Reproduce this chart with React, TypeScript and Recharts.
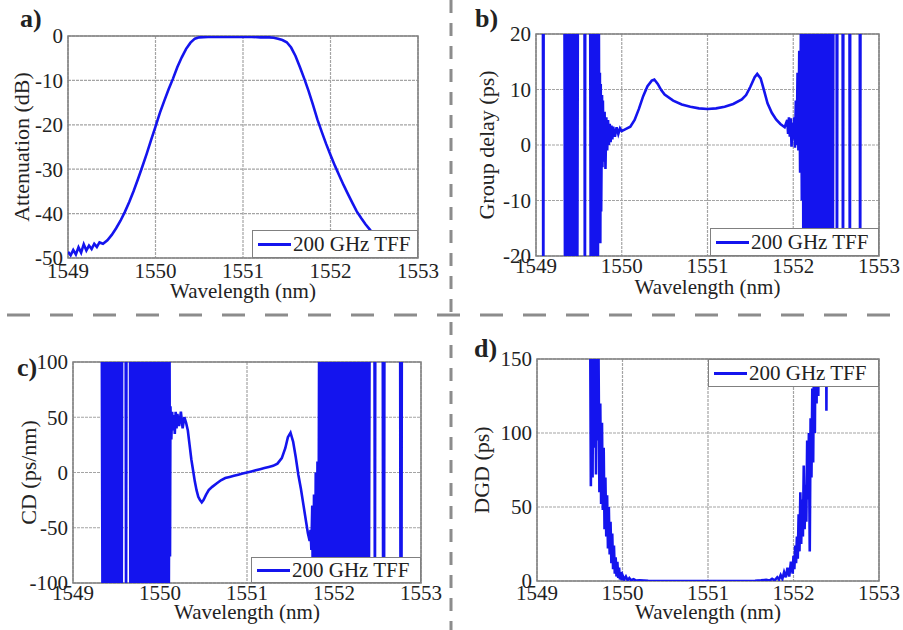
import React from "react";
import {
  LineChart,
  Line,
  XAxis,
  YAxis,
  CartesianGrid,
  Legend,
  Label,
  ReferenceArea,
} from "recharts";

const SERIF = '"Liberation Serif", "Times New Roman", Times, serif';
const BLUE = "#1414ee";
const INK = "#222";
const GRID = "#a4a4a4";
const FRAME = "#808080";

const seriesName = "200 GHz TFF";
const xTitle = "Wavelength (nm)";
const wlTicks = [1549, 1550, 1551, 1552, 1553];
const attTicks = [-50, -40, -30, -20, -10, 0];
const gdTicks = [-20, -10, 0, 10, 20];
const cdTicks = [-100, -50, 0, 50, 100];
const dgdTicks = [0, 50, 100, 150];

// a) attenuation
const attWl = [
  1549.0, 1549.03, 1549.06, 1549.09, 1549.12, 1549.15, 1549.18, 1549.21, 1549.24, 1549.27,
  1549.3, 1549.33, 1549.36, 1549.4, 1549.45, 1549.5, 1549.55, 1549.6, 1549.65, 1549.7,
  1549.75, 1549.8, 1549.85, 1549.9, 1549.95, 1550.0, 1550.05, 1550.1, 1550.15, 1550.2,
  1550.25, 1550.3, 1550.35, 1550.4, 1550.45, 1550.5, 1550.6, 1550.7, 1550.8, 1550.9,
  1551.0, 1551.1, 1551.2, 1551.3, 1551.35, 1551.4, 1551.45, 1551.5, 1551.55, 1551.6,
  1551.65, 1551.7, 1551.75, 1551.8, 1551.85, 1551.9, 1551.95, 1552.0, 1552.05, 1552.1,
  1552.15, 1552.2, 1552.25, 1552.3, 1552.35, 1552.4, 1552.45, 1552.5, 1552.55,
];
const attDb = [
  -48.6, -49.4, -48.2, -49.2, -47.6, -48.8, -46.9, -48.3, -47.2, -48.0,
  -46.8, -47.5, -46.5, -46.8, -46.0, -44.8, -43.3, -41.6, -39.6, -37.4,
  -34.9, -32.2, -29.4, -26.5, -23.4, -20.4, -17.3, -14.6, -12.0, -9.6,
  -7.0, -4.8, -2.9, -1.5, -0.6, -0.3, -0.2, -0.2, -0.2, -0.2,
  -0.2, -0.2, -0.3, -0.3, -0.4, -0.6, -0.9, -1.4, -2.6, -4.5,
  -7.0, -9.6, -12.4, -15.5, -18.8, -21.6, -24.3, -26.8, -29.2, -31.4,
  -33.6, -35.6, -37.6, -39.5, -41.0, -42.4, -43.6, -45.0, -46.2,
];

// b) group delay
const gdWl = [
  1549.0, 1549.08, 1549.085, 1549.09, 1549.33, 1549.34, 1549.35, 1549.36, 1549.37, 1549.38,
  1549.39, 1549.4, 1549.41, 1549.42, 1549.43, 1549.44, 1549.45, 1549.46, 1549.47, 1549.48,
  1549.49, 1549.565, 1549.57, 1549.575, 1549.63, 1549.64, 1549.65, 1549.66, 1549.67, 1549.68,
  1549.69, 1549.7, 1549.71, 1549.72, 1549.73, 1549.74, 1549.745, 1549.75, 1549.755, 1549.76,
  1549.77, 1549.775, 1549.78, 1549.79, 1549.8, 1549.81, 1549.82, 1549.83, 1549.84, 1549.85,
  1549.86, 1549.87, 1549.88, 1549.89, 1549.9, 1549.92, 1549.94, 1549.96, 1549.98, 1550.0,
  1550.05, 1550.1, 1550.15, 1550.2, 1550.25, 1550.3, 1550.35, 1550.38, 1550.42, 1550.46,
  1550.5, 1550.6, 1550.7, 1550.8, 1550.9, 1551.0, 1551.1, 1551.2, 1551.3, 1551.4,
  1551.45, 1551.5, 1551.55, 1551.58, 1551.62, 1551.66, 1551.7, 1551.75, 1551.8, 1551.85,
  1551.9, 1551.93, 1551.94, 1551.95, 1551.96, 1551.97, 1551.98, 1551.99, 1552.0, 1552.01,
  1552.02, 1552.03, 1552.04, 1552.05, 1552.06, 1552.07, 1552.08, 1552.09, 1552.1, 1552.11,
  1552.12, 1552.13, 1552.14, 1552.15, 1552.16, 1552.17, 1552.18, 1552.19, 1552.2, 1552.21,
  1552.22, 1552.23, 1552.24, 1552.25, 1552.26, 1552.27, 1552.28, 1552.29, 1552.3, 1552.31,
  1552.32, 1552.33, 1552.34, 1552.35, 1552.36, 1552.37, 1552.38, 1552.39, 1552.4, 1552.41,
  1552.42, 1552.43, 1552.44, 1552.45, 1552.46, 1552.47, 1552.505, 1552.51, 1552.515, 1552.575,
  1552.58, 1552.585, 1552.655, 1552.66, 1552.665, 1552.775, 1552.78, 1552.785, 1553.0,
];
const gdPs = [
  40, 40, -40, 40, 40, -40, 40, -40, 40, -40,
  40, -40, 40, -40, 40, -40, 40, -40, 40, -40,
  40, 40, -40, 40, 40, -40, 40, -40, 40, -40,
  40, -40, 40, -40, 40, -16, 13, -17.7, 11, -12,
  9, -4, 8, -3, 6, -4.3, 5, -1, 4.5, 0,
  3.8, 0.5, 3.5, 1, 3.3, 1.5, 3.2, 2, 3, 2.5,
  2.9, 3.3, 4.5, 6.5, 8.8, 10.6, 11.6, 11.8, 11.0, 9.9,
  9.1, 8.0, 7.3, 6.9, 6.6, 6.5, 6.6, 6.9, 7.4, 8.2,
  9.0, 10.5, 12.2, 12.8, 12.0, 9.8, 7.5, 5.8, 4.6, 3.8,
  3.2, 4.5, 2, 5, 1.5, 4.8, -0.3, 4, 1, 5,
  -0.5, 8, 0, 13, -1, 17, -5, 25, -10, 40,
  -40, 40, -40, 40, -40, 40, -40, 40, -40, 40,
  -40, 40, -40, 40, -40, 40, -40, 40, -40, 40,
  -40, 40, -40, 40, -40, 40, -40, 40, -40, 40,
  -40, 40, -40, 40, -40, 40, 40, -40, 40, 40,
  -40, 40, 40, -40, 40, 40, -40, 40, 40,
];

// c) chromatic dispersion
const cdWl = [
  1549.0, 1549.33, 1549.34, 1549.35, 1549.36, 1549.37, 1549.38, 1549.39, 1549.4, 1549.41,
  1549.42, 1549.43, 1549.44, 1549.45, 1549.46, 1549.47, 1549.48, 1549.49, 1549.5, 1549.51,
  1549.52, 1549.53, 1549.54, 1549.55, 1549.56, 1549.565, 1549.605, 1549.61, 1549.615, 1549.655,
  1549.66, 1549.67, 1549.68, 1549.69, 1549.7, 1549.71, 1549.72, 1549.73, 1549.74, 1549.75,
  1549.76, 1549.77, 1549.78, 1549.79, 1549.8, 1549.81, 1549.82, 1549.83, 1549.84, 1549.85,
  1549.86, 1549.87, 1549.88, 1549.89, 1549.9, 1549.91, 1549.92, 1549.93, 1549.94, 1549.95,
  1549.96, 1549.97, 1549.98, 1549.99, 1550.0, 1550.01, 1550.02, 1550.03, 1550.04, 1550.05,
  1550.06, 1550.07, 1550.08, 1550.09, 1550.1, 1550.11, 1550.115, 1550.12, 1550.13, 1550.14,
  1550.15, 1550.16, 1550.17, 1550.18, 1550.19, 1550.2, 1550.22, 1550.24, 1550.26, 1550.28,
  1550.3, 1550.32, 1550.34, 1550.36, 1550.38, 1550.4, 1550.42, 1550.44, 1550.46, 1550.48,
  1550.5, 1550.53, 1550.56, 1550.6, 1550.65, 1550.7, 1550.75, 1550.8, 1550.85, 1550.9,
  1550.95, 1551.0, 1551.05, 1551.1, 1551.15, 1551.2, 1551.25, 1551.3, 1551.35, 1551.4,
  1551.44, 1551.47, 1551.5, 1551.53, 1551.56, 1551.59, 1551.62, 1551.65, 1551.68, 1551.7,
  1551.72, 1551.73, 1551.74, 1551.75, 1551.76, 1551.77, 1551.78, 1551.79, 1551.8, 1551.81,
  1551.82, 1551.83, 1551.84, 1551.85, 1551.86, 1551.87, 1551.88, 1551.89, 1551.9, 1551.91,
  1551.92, 1551.93, 1551.94, 1551.95, 1551.96, 1551.97, 1551.98, 1551.99, 1552.0, 1552.01,
  1552.02, 1552.03, 1552.04, 1552.05, 1552.06, 1552.07, 1552.08, 1552.09, 1552.1, 1552.11,
  1552.12, 1552.13, 1552.14, 1552.15, 1552.16, 1552.17, 1552.18, 1552.19, 1552.2, 1552.21,
  1552.22, 1552.23, 1552.24, 1552.25, 1552.26, 1552.27, 1552.28, 1552.29, 1552.3, 1552.31,
  1552.32, 1552.33, 1552.34, 1552.35, 1552.36, 1552.37, 1552.38, 1552.39, 1552.4, 1552.41,
  1552.465, 1552.47, 1552.475, 1552.56, 1552.565, 1552.57, 1552.575, 1552.58, 1552.76, 1552.765,
  1552.77, 1552.775, 1552.78, 1553.0,
];
const cdPsNm = [
  150, 150, -150, 150, -150, 150, -150, 150, -150, 150,
  -150, 150, -150, 150, -150, 150, -150, 150, -150, 150,
  -150, 150, -150, 150, -150, 150, 150, -150, 150, 150,
  -150, 150, -150, 150, -150, 150, -150, 150, -150, 150,
  -150, 150, -150, 150, -150, 150, -150, 150, -150, 150,
  -150, 150, -150, 150, -150, 150, -150, 150, -150, 150,
  -150, 150, -150, 150, -150, 150, -150, 150, -150, 150,
  -150, 150, -150, 150, -150, 100, -76, 60, 30, 55,
  38, 52, 35, 55, 40, 53, 42, 55, 40, 50,
  45, 38, 25, 12, 2, -8, -16, -22, -25, -27,
  -25, -20, -16, -13, -10, -7, -5, -4, -3, -2,
  -1, 0, 1, 2, 3, 4, 5, 6, 8, 13,
  22, 32, 36, 28, 14, -2, -15, -30, -45, -55,
  -62, -52, -70, -30, -150, -20, -150, 0, -150, 10,
  -150, 150, -150, 150, -150, 150, -150, 150, -150, 150,
  -150, 150, -150, 150, -150, 150, -150, 150, -150, 150,
  -150, 150, -150, 150, -150, 150, -150, 150, -150, 150,
  -150, 150, -150, 150, -150, 150, -150, 150, -150, 150,
  -150, 150, -150, 150, -150, 150, -150, 150, -150, 150,
  -150, 150, -150, 150, -150, 150, -150, 150, -150, 150,
  150, -150, 150, 150, -150, 150, -150, 150, 150, -150,
  150, -150, 150, 150,
];

// d) differential group delay
const dgdWl = [
  1549.5, 1549.62, 1549.63, 1549.64, 1549.65, 1549.66, 1549.67, 1549.68, 1549.69, 1549.7,
  1549.71, 1549.72, 1549.73, 1549.74, 1549.75, 1549.76, 1549.77, 1549.78, 1549.79, 1549.8,
  1549.81, 1549.82, 1549.83, 1549.84, 1549.85, 1549.86, 1549.87, 1549.88, 1549.89, 1549.9,
  1549.91, 1549.92, 1549.93, 1549.94, 1549.95, 1549.96, 1549.97, 1549.98, 1549.99, 1550.0,
  1550.02, 1550.04, 1550.06, 1550.08, 1550.1, 1550.13, 1550.16, 1550.2, 1550.3, 1550.5,
  1550.8, 1551.1, 1551.4, 1551.55, 1551.62, 1551.68, 1551.72, 1551.75, 1551.78, 1551.81,
  1551.83, 1551.85, 1551.87, 1551.89, 1551.91, 1551.93, 1551.95, 1551.97, 1551.99, 1552.0,
  1552.01, 1552.02, 1552.03, 1552.04, 1552.05, 1552.06, 1552.07, 1552.08, 1552.09, 1552.1,
  1552.11, 1552.12, 1552.13, 1552.14, 1552.15, 1552.16, 1552.17, 1552.18, 1552.19, 1552.2,
  1552.21, 1552.22, 1552.23, 1552.24, 1552.25, 1552.26, 1552.27, 1552.28, 1552.29, 1552.3,
  1552.38, 1552.385, 1552.39, 1553.0,
];
const dgdPs = [
  200, 200, 64, 200, 70, 200, 90, 200, 72, 180,
  95, 150, 60, 120, 52, 107, 48, 90, 35, 70,
  30, 58, 22, 50, 18, 40, 12, 32, 8, 24,
  5, 16, 3, 13, 2, 9, 1, 6, 0.5, 4,
  1, 3, 0.5, 2, 0.5, 1.2, 0.3, 0.5, 0.1, 0,
  0, 0, 0, 0.2, 0.4, 0.8, 0.3, 1.5, 0.5, 2.5,
  1, 4, 1.5, 6, 2.5, 9, 3, 13, 5, 17,
  8, 24, 12, 30, 15, 45, 20, 60, 25, 55,
  30, 78, 35, 65, 40, 95, 55, 100, 20, 110,
  70, 130, 80, 160, 100, 200, 120, 200, 125, 200,
  200, 115, 200, 200,
];

type Box = { x: number; y: number; w: number; h: number };

interface PanelProps {
  tag: string;
  yTitle: string;
  wl: number[];
  vals: number[];
  yTicks: number[];
  frame: Box;
  plot: Box;
  legend: Box;
  tickGap: number;
  xTitleBase: number;
  yTitleX: number;
  tagAt: [number, number];
}

function Panel(p: PanelProps) {
  const { frame, plot, legend } = p;
  const ox = frame.x;
  const oy = frame.y;
  const data = p.wl.map((w, i) => ({ wl: w, v: p.vals[i] }));
  const yMin = p.yTicks[0];
  const yMax = p.yTicks[p.yTicks.length - 1];
  const tickStyle = { fontSize: 21, fill: INK, fontFamily: SERIF };
  const cx = plot.x - ox + plot.w / 2;
  const cy = plot.y - oy + plot.h / 2;
  const ytx = p.yTitleX - ox;

  const renderYTitle = () => (
    <text
      x={ytx}
      y={cy}
      transform={`rotate(-90 ${ytx} ${cy})`}
      textAnchor="middle"
      dominantBaseline="central"
      fontSize={22}
      fontFamily={SERIF}
      fill={INK}
    >
      {p.yTitle}
    </text>
  );
  const renderTag = () => (
    <text
      x={p.tagAt[0] - ox}
      y={p.tagAt[1] - oy}
      fontSize={26}
      fontWeight="bold"
      fontFamily={SERIF}
      fill={INK}
    >
      {p.tag}
    </text>
  );
  const renderXTitle = () => (
    <text
      x={cx}
      y={p.xTitleBase - oy}
      textAnchor="middle"
      fontSize={21}
      fontFamily={SERIF}
      fill={INK}
    >
      {xTitle}
    </text>
  );
  const renderLegend = () => (
    <div
      style={{
        boxSizing: "border-box",
        width: "100%",
        height: "100%",
        background: "#fff",
        border: `1.5px solid ${FRAME}`,
        display: "flex",
        alignItems: "center",
        paddingLeft: 5,
        fontFamily: SERIF,
        fontSize: 21,
        color: INK,
        whiteSpace: "nowrap",
      }}
    >
      <span
        style={{
          display: "inline-block",
          width: 33,
          height: 3,
          background: BLUE,
          marginRight: 2,
        }}
      />
      {seriesName}
    </div>
  );

  return (
    <div style={{ position: "absolute", left: frame.x, top: frame.y }}>
      <LineChart
        width={frame.w}
        height={frame.h}
        data={data}
        margin={{
          top: plot.y - oy,
          right: ox + frame.w - plot.x - plot.w,
          bottom: 0,
          left: 0,
        }}
      >
        <CartesianGrid stroke={GRID} strokeWidth={1.2} strokeDasharray="3 1" />
        <XAxis
          dataKey="wl"
          type="number"
          domain={[1549, 1553]}
          ticks={wlTicks}
          interval={0}
          allowDataOverflow
          height={oy + frame.h - plot.y - plot.h}
          axisLine={false}
          tickLine={false}
          tickSize={0}
          tickMargin={p.tickGap}
          tick={tickStyle}
        >
          <Label content={renderXTitle} />
        </XAxis>
        <YAxis
          type="number"
          domain={[yMin, yMax]}
          ticks={p.yTicks}
          interval={0}
          allowDataOverflow
          width={plot.x - ox}
          axisLine={false}
          tickLine={false}
          tickSize={0}
          tickMargin={5}
          tick={tickStyle}
        >
          <Label content={renderYTitle} />
          <Label content={renderTag} />
        </YAxis>
        <Line
          type="linear"
          dataKey="v"
          name={seriesName}
          stroke={BLUE}
          strokeWidth={2.6}
          dot={false}
          activeDot={false}
          isAnimationActive={false}
        />
        <ReferenceArea
          x1={1549}
          x2={1553}
          y1={yMin}
          y2={yMax}
          fill="none"
          stroke={FRAME}
          strokeWidth={1.5}
        />
        <Legend
          layout="vertical"
          align="center"
          verticalAlign="middle"
          content={renderLegend}
          wrapperStyle={{
            left: legend.x - ox,
            top: legend.y - oy,
            width: legend.w,
            height: legend.h,
            margin: 0,
          }}
        />
      </LineChart>
    </div>
  );
}

export default function App() {
  return (
    <div
      style={{
        position: "absolute",
        left: 0,
        top: 0,
        width: 903,
        height: 630,
        background: "#fff",
        overflow: "hidden",
      }}
    >
      <Panel
        tag="a)"
        yTitle="Attenuation (dB)"
        wl={attWl}
        vals={attDb}
        yTicks={attTicks}
        frame={{ x: 0, y: 0, w: 450, h: 310 }}
        plot={{ x: 68, y: 36, w: 350, h: 222 }}
        legend={{ x: 252, y: 230, w: 166, h: 28 }}
        tickGap={5}
        xTitleBase={298}
        yTitleX={21}
        tagAt={[20, 27]}
      />
      <Panel
        tag="b)"
        yTitle="Group delay (ps)"
        wl={gdWl}
        vals={gdPs}
        yTicks={gdTicks}
        frame={{ x: 455, y: 0, w: 448, h: 310 }}
        plot={{ x: 536, y: 34, w: 343, h: 222 }}
        legend={{ x: 710, y: 228, w: 169, h: 28 }}
        tickGap={2}
        xTitleBase={294}
        yTitleX={486}
        tagAt={[475, 27]}
      />
      <Panel
        tag="c)"
        yTitle="CD (ps/nm)"
        wl={cdWl}
        vals={cdPsNm}
        yTicks={cdTicks}
        frame={{ x: 0, y: 318, w: 450, h: 312 }}
        plot={{ x: 73, y: 362, w: 348, h: 221 }}
        legend={{ x: 251, y: 557, w: 170, h: 26 }}
        tickGap={2}
        xTitleBase={619}
        yTitleX={28}
        tagAt={[17, 376]}
      />
      <Panel
        tag="d)"
        yTitle="DGD (ps)"
        wl={dgdWl}
        vals={dgdPs}
        yTicks={dgdTicks}
        frame={{ x: 455, y: 318, w: 448, h: 312 }}
        plot={{ x: 537, y: 359, w: 342, h: 222 }}
        legend={{ x: 708, y: 359, w: 171, h: 28 }}
        tickGap={4}
        xTitleBase={619}
        yTitleX={481}
        tagAt={[474, 357]}
      />
      <svg
        width={903}
        height={630}
        style={{ position: "absolute", left: 0, top: 0, pointerEvents: "none" }}
      >
        <line
          x1={0}
          y1={315}
          x2={903}
          y2={315}
          stroke="#8c8c8c"
          strokeWidth={3}
          strokeDasharray="23 20"
          strokeDashoffset={36}
        />
        <line
          x1={451}
          y1={0}
          x2={451}
          y2={630}
          stroke="#8c8c8c"
          strokeWidth={3}
          strokeDasharray="13 10"
        />
      </svg>
    </div>
  );
}
